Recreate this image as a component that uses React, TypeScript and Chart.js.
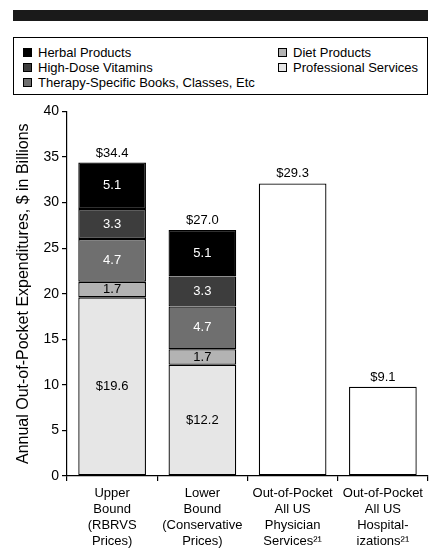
import React, { useEffect, useRef } from "react";
import { Chart, registerables } from "chart.js";

Chart.register(...registerables);

const FONT = '"Liberation Sans", Arial, Helvetica, sans-serif';

const categories: string[][] = [
  ["Upper", "Bound", "(RBRVS", "Prices)"],
  ["Lower", "Bound", "(Conservative", "Prices)"],
  ["Out-of-Pocket", "All US", "Physician", "Services²¹"],
  ["Out-of-Pocket", "All US", "Hospital-", "izations²¹"],
];

const professional: (number | null)[] = [19.6, 12.2, null, null];
const diet: (number | null)[] = [1.7, 1.7, null, null];
const therapy: (number | null)[] = [4.7, 4.7, null, null];
const vitamins: (number | null)[] = [3.3, 3.3, null, null];
const herbal: (number | null)[] = [5.1, 5.1, null, null];
const comparison: (number | null)[] = [null, null, 32.1, 9.8];

const totalLabels = ["$34.4", "$27.0", "$29.3", "$9.1"];
const yTicks = [0, 5, 10, 15, 20, 25, 30, 35, 40];

const seriesNames = [
  "Professional Services",
  "Diet Products",
  "Therapy-Specific Books, Classes, Etc",
  "High-Dose Vitamins",
  "Herbal Products",
  "Comparison",
];
const seriesColors = ["#e6e6e6", "#b3b3b3", "#6f6f6f", "#3d3d3d", "#000000", "#ffffff"];
const seriesLabelColors = ["#000", "#000", "#fff", "#fff", "#fff", ""];
const seriesLabelPrefix = ["$", "", "", "", "", ""];

const legendColumn1 = [4, 3, 2];
const legendColumn2 = [1, 0];

const yTitle = "Annual Out-of-Pocket Expenditures, $ in Billions";

const labelPlugin = {
  id: "valueLabels",
  afterDatasetsDraw(chart: any) {
    const ctx = chart.ctx;
    ctx.save();
    ctx.font = `13px ${FONT}`;
    ctx.textAlign = "center";
    ctx.textBaseline = "middle";
    chart.data.datasets.forEach((ds: any, di: number) => {
      if (!seriesLabelColors[di]) return;
      const meta = chart.getDatasetMeta(di);
      meta.data.forEach((el: any, i: number) => {
        const v = ds.data[i];
        if (v == null) return;
        ctx.fillStyle = seriesLabelColors[di];
        ctx.fillText(seriesLabelPrefix[di] + v.toFixed(1), el.x, (el.y + el.base) / 2);
      });
    });
    categories.forEach((_, i) => {
      let top = Infinity;
      let x = 0;
      chart.data.datasets.forEach((ds: any, di: number) => {
        if (ds.data[i] == null) return;
        const el = chart.getDatasetMeta(di).data[i];
        if (el.y < top) {
          top = el.y;
          x = el.x;
        }
      });
      ctx.fillStyle = "#000";
      ctx.fillText(totalLabels[i], x, top - 9.5);
    });
    ctx.restore();
  },
};

function LegendItem({ idx }: { idx: number }) {
  return (
    <div style={{ display: "flex", alignItems: "center", height: 15 }}>
      <span
        style={{
          display: "inline-block",
          width: 9,
          height: 9,
          boxSizing: "border-box",
          border: "1px solid #000",
          background: seriesColors[idx],
          marginRight: 6,
        }}
      />
      <span>{seriesNames[idx]}</span>
    </div>
  );
}

export default function App() {
  const ref = useRef<HTMLCanvasElement | null>(null);

  useEffect(() => {
    if (!ref.current) return;
    Chart.defaults.font.family = FONT;
    const dataArrays = [professional, diet, therapy, vitamins, herbal, comparison];
    const chart = new Chart(ref.current, {
      type: "bar",
      data: {
        labels: categories,
        datasets: dataArrays.map((d, i) => ({
          label: seriesNames[i],
          data: d,
          backgroundColor: seriesColors[i],
          borderColor: "#000",
          borderWidth: 1.3,
          borderSkipped: false,
          categoryPercentage: 1,
          barPercentage: 0.75,
        })),
      },
      options: {
        animation: false,
        responsive: false,
        events: [],
        layout: { padding: { top: 10, right: 6, left: 0, bottom: 0 } },
        plugins: {
          legend: { display: false },
          tooltip: { enabled: false },
        },
        scales: {
          x: {
            stacked: true,
            grid: {
              offset: true,
              drawOnChartArea: false,
              drawTicks: true,
              tickLength: 5,
              color: "#000",
              lineWidth: 1.2,
            },
            border: { color: "#000", width: 1.2 },
            ticks: {
              font: { family: FONT, size: 13, lineHeight: "16px" },
              color: "#000",
              padding: 4,
              maxRotation: 0,
              autoSkip: false,
            },
            afterFit: (s: any) => {
              s.height = 84;
            },
          },
          y: {
            stacked: true,
            min: 0,
            max: 40,
            afterBuildTicks: (s: any) => {
              s.ticks = yTicks.map((v) => ({ value: v }));
            },
            ticks: {
              font: { family: FONT, size: 14 },
              color: "#000",
              padding: 3,
            },
            grid: {
              drawOnChartArea: false,
              drawTicks: true,
              tickLength: 5,
              color: "#000",
              lineWidth: 1.2,
            },
            border: { color: "#000", width: 1.2 },
            title: {
              display: true,
              text: yTitle,
              font: { family: FONT, size: 16 },
              color: "#000",
              padding: { top: 14, bottom: 0 },
            },
            afterFit: (s: any) => {
              s.width = 67;
            },
          },
        },
      },
      plugins: [labelPlugin],
    });
    return () => chart.destroy();
  }, []);

  return (
    <div
      style={{
        position: "absolute",
        left: 0,
        top: 0,
        width: 434,
        height: 560,
        background: "#fff",
        fontFamily: FONT,
        fontSize: 13,
        color: "#000",
      }}
    >
      <div
        style={{
          position: "absolute",
          left: 13,
          top: 10,
          width: 415,
          height: 11,
          background: "#1a1a1a",
        }}
      />
      <div
        style={{
          position: "absolute",
          left: 13,
          top: 37,
          width: 415,
          height: 58,
          boxSizing: "border-box",
          border: "1px solid #000",
        }}
      >
        <div style={{ position: "absolute", left: 9, top: 7 }}>
          {legendColumn1.map((i) => (
            <LegendItem key={i} idx={i} />
          ))}
        </div>
        <div style={{ position: "absolute", left: 264, top: 7 }}>
          {legendColumn2.map((i) => (
            <LegendItem key={i} idx={i} />
          ))}
        </div>
      </div>
      <canvas
        ref={ref}
        width={434}
        height={460}
        style={{ position: "absolute", left: 0, top: 100, width: 434, height: 460 }}
      />
    </div>
  );
}
